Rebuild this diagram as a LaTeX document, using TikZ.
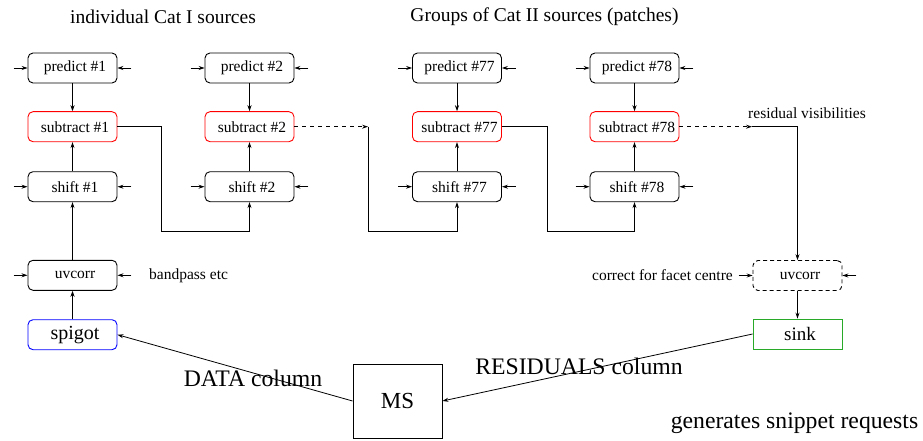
\documentclass[tikz,border=0pt]{standalone}
\usepackage{fontspec}
\setmainfont{Liberation Serif}
\usetikzlibrary{arrows.meta}

\begin{document}
\begin{tikzpicture}[x=1pt,y=-1pt,
  box/.style={draw, rounded corners=5pt, minimum width=89pt, minimum height=30pt,
              inner sep=0pt, line width=0.9pt, font=\fontsize{15.5}{18}\selectfont,
              execute at begin node=\hspace*{5pt}},
  redbox/.style={box, draw=red},
  dashbox/.style={box, dash pattern=on 4pt off 3pt},
  spigotbox/.style={box, draw=blue, font=\fontsize{20}{24}\selectfont},
  sinkbox/.style={box, rounded corners=0pt, draw=sinkgreen, font=\fontsize{19}{23}\selectfont},
  msbox/.style={draw, line width=0.9pt, minimum width=89pt, minimum height=74pt,
                inner sep=0pt, font=\fontsize{23}{27}\selectfont},
  label/.style={inner sep=0pt, font=\fontsize{15.5}{18}\selectfont},
  title/.style={inner sep=0pt, font=\fontsize{19.5}{23}\selectfont},
  biglabel/.style={inner sep=0pt, font=\fontsize{23.7}{28}\selectfont},
  flow/.style={line width=0.8pt, -{Stealth[length=6pt,width=4pt,inset=2pt]}},
  dashflow/.style={flow, dash pattern=on 4pt off 4pt},
]
\definecolor{sinkgreen}{RGB}{40,170,40}
\useasboundingbox (0,0) rectangle (923,441);

% titles
\node[title] (t1) at (163,17) {individual Cat I sources};
\node[title] (t2) at (544.5,17) {Groups of Cat II sources (patches)};

% predict row
\node[box] (p1)  at (72.5,68)  {predict \#1};
\node[box] (p2)  at (249.5,68) {predict \#2};
\node[box] (p77) at (457,68)   {predict \#77};
\node[box] (p78) at (634.5,68) {predict \#78};

% subtract row
\node[redbox] (s1)  at (72.5,126.7)  {subtract \#1};
\node[redbox] (s2)  at (249.5,126.7) {subtract \#2};
\node[redbox] (s77) at (457,126.7)   {subtract \#77};
\node[redbox] (s78) at (634.5,126.7) {subtract \#78};

% shift row
\node[box] (h1)  at (72.5,186.7)  {shift \#1};
\node[box] (h2)  at (249.5,186.7) {shift \#2};
\node[box] (h77) at (457,186.7)   {shift \#77};
\node[box] (h78) at (634.5,186.7) {shift \#78};

% input chain
\node[box] (uv1) at (72.5,275.3) {uvcorr};
\node[spigotbox] (sp) at (72.5,334.7) {spigot};
\node[label, anchor=west] (bp) at (149,276) {bandpass etc};

% output chain
\node[label] (rv) at (807,113) {residual visibilities};
\node[dashbox] (uv2) at (797.5,275.5) {uvcorr};
\node[label, anchor=east] (cf) at (733,275) {correct for facet centre};
\node[sinkbox] (sk) at (797.5,334) {sink};

% measurement set
\node[msbox] (ms) at (397.5,401) {MS};
\node[biglabel] (dc) at (253,378) {DATA column};
\node[biglabel] (rc) at (579,366) {RESIDUALS column};
\node[biglabel] (gs) at (794.5,423) {generates snippet requests};

% side inputs
\foreach \n in {p1,p2,p77,p78,h1,h2,h77,h78,uv1,uv2}{
  \draw[flow] ([xshift=-14pt]\n.west) -- (\n.west);
  \draw[flow] ([xshift=14pt]\n.east) -- (\n.east);
}

% vertical links in each column
\foreach \c in {1,2,77,78}{
  \draw[flow] (p\c.south) -- (s\c.north);
  \draw[flow] (h\c.north) -- (s\c.south);
}
\draw[flow] (uv1.north) -- (h1.south);
\draw[flow] (sp.north) -- (uv1.south);

% chaining between sources
\coordinate (b1) at (161,231.5);
\coordinate (j2) at (368,126.7);
\coordinate (b2) at (368,231.5);
\coordinate (b77) at (547,231.5);
\coordinate (j78) at (752,126.7);
\coordinate (k78) at (797.5,126.7);

\draw[flow] (s1.east) -| (b1) -| (h2.south);
\draw[dashflow] (s2.east) -- (j2);
\draw[flow] (j2) -- (b2) -| (h77.south);
\draw[flow] (s77.east) -| (b77) -| (h78.south);
\draw[dashflow] (s78.east) -- (j78);
\draw[flow] (j78) -- (k78) -- (uv2.north);
\draw[flow] (uv2.south) -- (sk.north);

% links to and from the measurement set
\draw[flow] (sk.west) -- (ms.east);
\draw[flow] (ms.west) -- (sp.east);
\end{tikzpicture}
\end{document}
